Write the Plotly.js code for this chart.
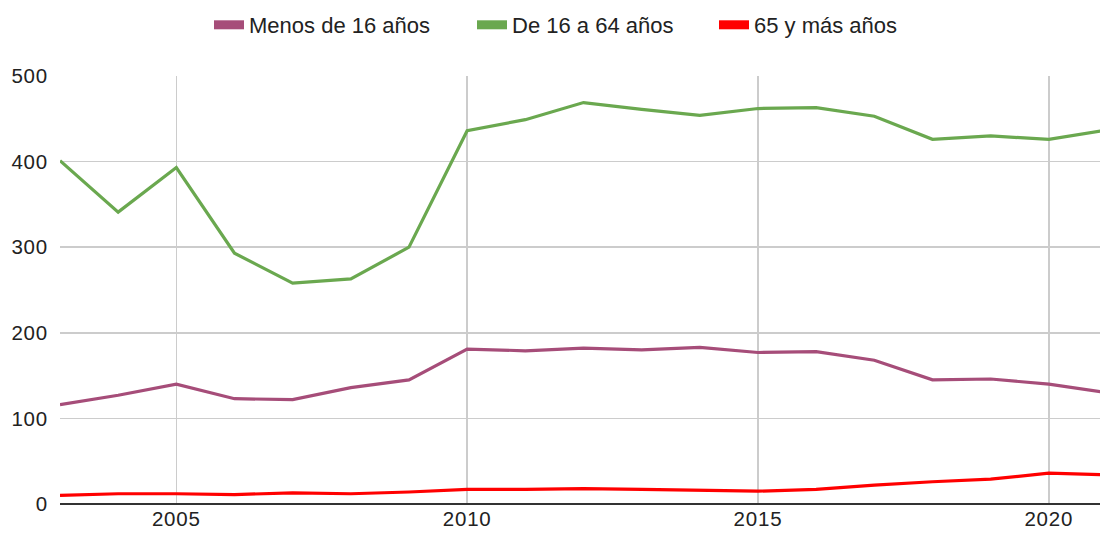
<!DOCTYPE html>
<html>
<head>
<meta charset="utf-8">
<script src="https://cdn.plot.ly/plotly-3.0.1.min.js"></script>
<style>
html,body{margin:0;padding:0;background:#fff;}
#chart{width:1100px;height:540px;}
.xtick text,.ytick text{letter-spacing:0.8px;}
</style>
</head>
<body>
<div id="chart"></div>
<script>
const years = [2003,2004,2005,2006,2007,2008,2009,2010,2011,2012,2013,2014,2015,2016,2017,2018,2019,2020,2021];
const menos16 = [116,127,140,123,122,136,145,181,179,182,180,183,177,178,168,145,146,140,130];
const de16a64 = [401,341,393,293,258,263,300,436,449,469,461,454,462,463,453,426,430,426,437];
const mas65 = [10,12,12,11,13,12,14,17,17,18,17,16,15,17,22,26,29,36,34];
const seriesNames = ['Menos de 16 años','De 16 a 64 años','65 y más años'];
const colors = ['#a64d79','#6aa84f','#ff0000'];
const yTicks = [0,100,200,300,400,500];
const xTicks = [2005,2010,2015,2020];

const values = [menos16, de16a64, mas65];
const legendIds = ['legend','legend2','legend3'];
const legendLeft = [209, 472, 714];
const traces = [];
values.forEach((v,i)=>{
  traces.push({x: years, y: v, type:'scatter', mode:'lines', name: seriesNames[i],
    line:{color: colors[i], width:3.2}, showlegend:false, hoverinfo:'x+y'});
});
values.forEach((v,i)=>{
  traces.push({x:[null], y:[null], type:'scatter', mode:'lines', name: seriesNames[i],
    line:{color: colors[i], width:9}, showlegend:true, legend: legendIds[i]});
});

const layout = {
  width:1100, height:540,
  margin:{l:60, r:0, t:76, b:36},
  paper_bgcolor:'#fff', plot_bgcolor:'#fff',
  font:{family:'"Liberation Sans", Arial, sans-serif', size:20.5, color:'#222'},
  showlegend:true,
  xaxis:{range:[2003,2020.88], tickvals:xTicks, ticktext:xTicks.map(String), showgrid:true,
    gridcolor:'#cccccc', gridwidth:1.5, zeroline:false, showline:false, ticks:'', fixedrange:true},
  yaxis:{range:[0,500], tickvals:yTicks, showgrid:true, gridcolor:'#cccccc', gridwidth:1.5,
    zeroline:true, zerolinecolor:'#333333', zerolinewidth:1.5, showline:false, ticks:'', ticklabelstandoff:11}
};
legendIds.forEach((id,i)=>{
  layout[id] = {orientation:'h', xref:'container', yref:'container', x: legendLeft[i]/1100, xanchor:'left',
    y:0.9537, yanchor:'middle', font:{size:22, color:'#222'}, itemwidth:30, bgcolor:'rgba(0,0,0,0)'};
});
Plotly.newPlot('chart', traces, layout, {displayModeBar:false, staticPlot:true});
</script>
</body>
</html>
